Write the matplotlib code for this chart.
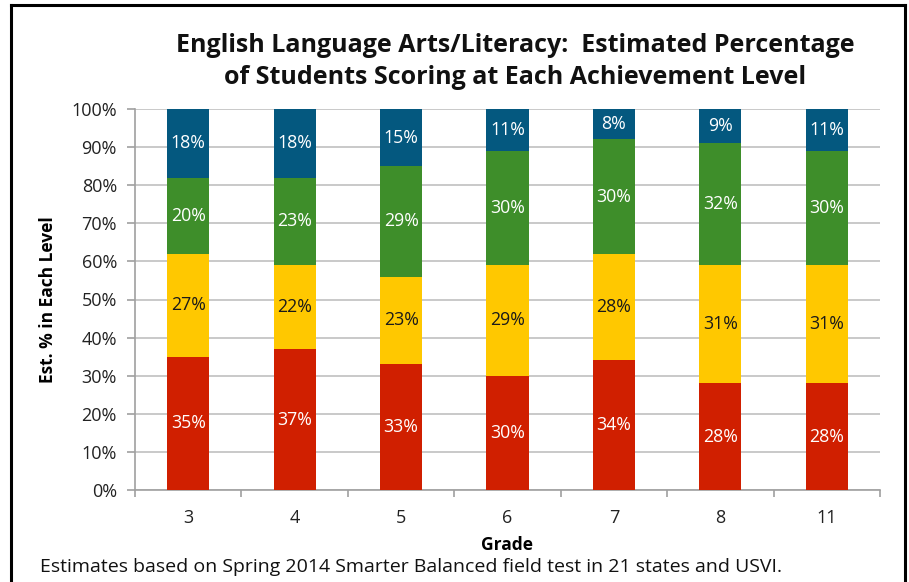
import matplotlib
matplotlib.use("Agg")
import matplotlib.pyplot as plt
from matplotlib.lines import Line2D
import numpy as np

grades = ["3", "4", "5", "6", "7", "8", "11"]
level1 = [35, 37, 33, 30, 34, 28, 28]
level2 = [27, 22, 23, 29, 28, 31, 31]
level3 = [20, 23, 29, 30, 30, 32, 30]
level4 = [18, 18, 15, 11, 8, 9, 11]
yticks = [0, 10, 20, 30, 40, 50, 60, 70, 80, 90, 100]

series = [level1, level2, level3, level4]
colors = ["#D01F00", "#FFC800", "#3E8E2A", "#04587F"]
label_colors = ["white", "#1a1a1a", "white", "white"]

plt.rcParams['font.family'] = ['Open Sans', 'DejaVu Sans']

fig = plt.figure(figsize=(9.09, 5.82), dpi=100)
W, H = 909, 582
ax = fig.add_axes([135 / W, 1 - 490 / H, (880 - 135) / W, (490 - 109) / H])

x = np.arange(len(grades))
bottom = np.zeros(len(grades))
for vals, c, lc in zip(series, colors, label_colors):
    vals = np.array(vals, dtype=float)
    ax.bar(x, vals, bottom=bottom, width=0.395, color=c, zorder=3)
    for xi, b, v in zip(x, bottom, vals):
        ax.text(xi, b + v / 2, f"{int(v)}%", ha="center", va="center",
                color=lc, fontsize=12.8, zorder=4)
    bottom += vals

ax.set_xlim(-0.5, len(grades) - 0.5)
ax.set_ylim(0, 100)
ax.set_yticks(yticks)
ax.set_yticklabels([f"{t}%" for t in yticks], fontsize=13, color="#222222")
ax.yaxis.grid(True, color="#c0c0c0", linewidth=1.2, zorder=0)
ax.set_axisbelow(True)
ax.set_xticks(x)
ax.set_xticklabels(grades, fontsize=13, color="#222222")
ax.set_xticks(np.arange(-0.5, len(grades), 1.0), minor=True)
ax.tick_params(axis="x", which="major", length=0, pad=14)
ax.tick_params(axis="x", which="minor", length=5, color="#a0a0a0", width=1.2)
ax.tick_params(axis="y", length=6, color="#a0a0a0", width=1.2, pad=7)
for s in ["top", "right"]:
    ax.spines[s].set_visible(False)
for s in ["left", "bottom"]:
    ax.spines[s].set_color("#a0a0a0")
    ax.spines[s].set_linewidth(1.2)

ax.set_xlabel("Grade", fontsize=12.5, fontweight="bold", labelpad=6)
ax.set_ylabel("Est. % in Each Level", fontsize=12.5, fontweight="bold", labelpad=10)

fig.text(515 / W, 1 - 46 / H, "English Language Arts/Literacy:  Estimated Percentage",
         ha="center", va="center", fontsize=18, fontweight="bold", color="#111111")
fig.text(515 / W, 1 - 78 / H, "of Students Scoring at Each Achievement Level",
         ha="center", va="center", fontsize=18, fontweight="bold", color="#111111")
fig.text(40 / W, 1 - 567 / H,
         "Estimates based on Spring 2014 Smarter Balanced field test in 21 states and USVI.",
         ha="left", va="center", fontsize=14, color="#111111")

# outer frame
fig.add_artist(Line2D([11 / W, 11 / W], [0, 1 - 5 / H], color="black", linewidth=2.2,
                      transform=fig.transFigure))
fig.add_artist(Line2D([905 / W, 905 / W], [0, 1 - 5 / H], color="black", linewidth=2.2,
                      transform=fig.transFigure))
fig.add_artist(Line2D([11 / W, 905 / W], [1 - 5 / H, 1 - 5 / H], color="black", linewidth=2.2,
                      transform=fig.transFigure))

fig.savefig("out.png", dpi=100)
